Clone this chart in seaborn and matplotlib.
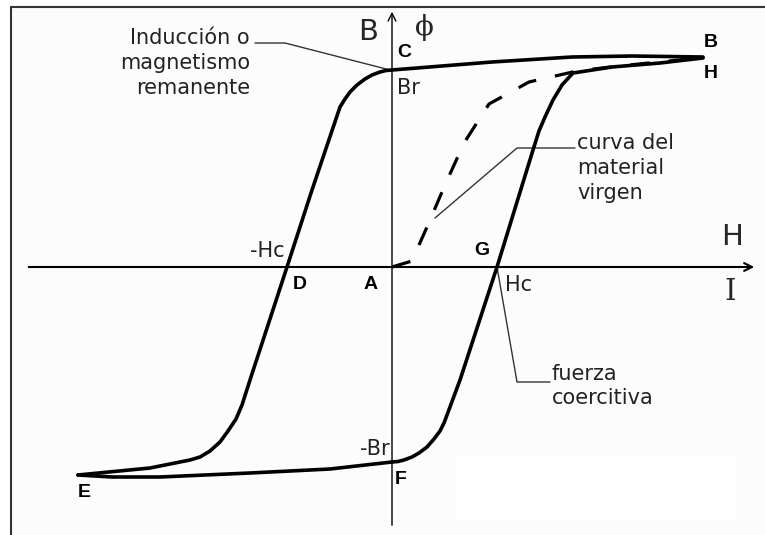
import matplotlib
matplotlib.use("Agg")
import matplotlib.pyplot as plt
from matplotlib.lines import Line2D
from matplotlib.patches import Rectangle
import numpy as np
import pandas as pd
import seaborn as sns

# hysteresis loop, H and B in arbitrary units (A = origin)
# descending branch B -> C -> D -> E
h_desc = [3.11, 2.40, 1.80, 1.00, 0.50, 0.00, -0.06, -0.12, -0.20, -0.27, -0.35, -0.42,
          -0.47, -0.52, -0.80, -1.05, -1.42, -1.50, -1.56, -1.64, -1.72, -1.82, -1.92,
          -2.02, -2.42, -3.14]
b_desc = [2.10, 2.11, 2.10, 2.05, 2.01, 1.97, 1.965, 1.95, 1.92, 1.88, 1.82, 1.75,
          1.68, 1.60, 0.77, 0.00, -1.13, -1.38, -1.52, -1.64, -1.75, -1.84, -1.90,
          -1.93, -2.01, -2.08]
# ascending branch E -> F -> G -> H
h_asc = [-3.14, -2.80, -2.32, -1.42, -0.62, 0.00, 0.06, 0.12, 0.20, 0.27, 0.35, 0.42,
         0.48, 0.52, 0.58, 0.68, 1.05, 1.41, 1.47, 1.53, 1.61, 1.70, 1.81, 2.20, 2.68, 3.11]
b_asc = [-2.08, -2.10, -2.10, -2.06, -2.02, -1.95, -1.945, -1.93, -1.90, -1.86, -1.80, -1.72,
         -1.64, -1.56, -1.40, -1.13, 0.00, 1.17, 1.36, 1.50, 1.67, 1.82, 1.94, 2.00, 2.04, 2.09]
# first magnetisation (virgin material)
h_virgin = [0.00, 0.20, 0.27, 0.35, 0.53, 0.72, 0.97, 1.37, 1.85, 2.27, 2.87, 3.08]
b_virgin = [0.00, 0.06, 0.22, 0.40, 0.82, 1.24, 1.63, 1.85, 1.96, 2.01, 2.07, 2.09]

loop = pd.concat([
    pd.DataFrame({"H": h_desc, "B": b_desc, "rama": "bajada"}),
    pd.DataFrame({"H": h_asc, "B": b_asc, "rama": "subida"}),
])
virgin = pd.DataFrame({"H": h_virgin, "B": b_virgin})

sns.set_theme(style="white")
plt.rcParams["font.family"] = ["DejaVu Sans"]

fig = plt.figure(figsize=(7.65, 5.35), dpi=100)
fig.patch.set_facecolor("white")
ax = fig.add_axes([0, 0, 1, 1])

# slightly grey paper inside the frame, white patch lower right
ax.add_patch(Rectangle((-3.81, -2.68), 7.6, 5.28, facecolor="#fcfcfc", edgecolor="none", zorder=0))
ax.add_patch(Rectangle((0.63, -2.53), 2.82, 0.65, facecolor="white", edgecolor="none", zorder=0))

# frame (top and left only)
fig.add_artist(Line2D([11 / 765, 11 / 765], [0, 1 - 7 / 535], color="#333333", lw=1.5))
fig.add_artist(Line2D([11 / 765, 1], [1 - 7 / 535, 1 - 7 / 535], color="#333333", lw=1.5))

# axes with arrows
ax.annotate("", xy=(3.65, 0), xytext=(-3.66, 0),
            arrowprops=dict(arrowstyle="->", color="black", lw=1.5, mutation_scale=14))
ax.annotate("", xy=(0, 2.58), xytext=(0, -2.61),
            arrowprops=dict(arrowstyle="->", color="black", lw=1.0, mutation_scale=14))

sns.lineplot(data=loop, x="H", y="B", units="rama", estimator=None, sort=False,
             color="black", lw=2.6, ax=ax, zorder=3,
             solid_joinstyle="round", solid_capstyle="round")
sns.lineplot(data=virgin, x="H", y="B", estimator=None, sort=False,
             color="black", lw=2.3, linestyle=(0, (6, 6)), ax=ax, zorder=3)
ax.set_xlim(-3.92, 3.73)
ax.set_ylim(-2.68, 2.67)
ax.axis("off")

# leader lines
lead = dict(color="#333333", lw=1.0, zorder=2)
ax.plot([-1.37, -1.07, -0.02], [2.24, 2.24, 1.97], **lead)
ax.plot([1.83, 1.25, 0.43], [1.19, 1.19, 0.49], **lead)
ax.plot([1.05, 1.25, 1.58], [0.00, -1.15, -1.15], **lead)

reg = dict(fontsize=15, color="#222222", family="DejaVu Sans")
bold = dict(fontsize=14, fontweight="bold", color="black", family="Liberation Sans",
            ha="center", va="center")

ax.text(-0.24, 2.35, "B", fontsize=21, ha="center", va="center", family="DejaVu Sans")
ax.text(0.32, 2.39, "ϕ", fontsize=20, ha="center", va="center", family="DejaVu Serif")
ax.text(3.40, 0.30, "H", fontsize=21, ha="center", va="center", family="DejaVu Sans")
ax.text(3.38, -0.25, "I", fontsize=21, ha="center", va="center", family="DejaVu Serif")

ax.text(-1.42, 2.04, "Inducción o\nmagnetismo\nremanente", ha="right", va="center",
        multialignment="right", linespacing=1.3, **reg)
ax.text(1.85, 0.99, "curva del\nmaterial\nvirgen", ha="left", va="center",
        linespacing=1.3, **reg)
ax.text(1.60, -1.19, "fuerza\ncoercitiva", ha="left", va="center", linespacing=1.3, **reg)

ax.text(0.05, 1.79, "Br", ha="left", va="center", **reg)
ax.text(-0.02, -1.82, "-Br", ha="right", va="center", **reg)
ax.text(-1.07, 0.16, "-Hc", ha="right", va="center", **reg)
ax.text(1.13, -0.18, "Hc", ha="left", va="center", **reg)

ax.text(0.12, 2.14, "C", **bold)
ax.text(3.19, 2.24, "B", **bold)
ax.text(3.19, 1.93, "H", **bold)
ax.text(0.90, 0.16, "G", **bold)
ax.text(-0.92, -0.18, "D", **bold)
ax.text(-0.21, -0.18, "A", **bold)
ax.text(0.09, -2.12, "F", **bold)
ax.text(-3.08, -2.26, "E", **bold)

fig.savefig("out.png", dpi=100, facecolor=fig.get_facecolor())
